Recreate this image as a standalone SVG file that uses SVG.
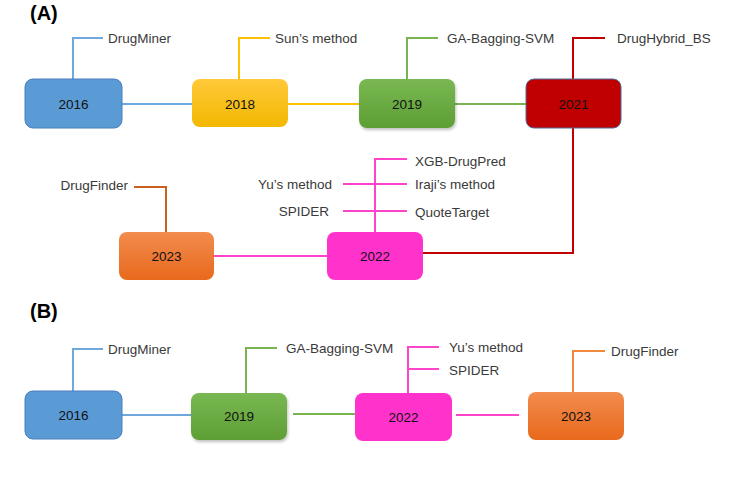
<svg xmlns="http://www.w3.org/2000/svg" width="756" height="489" viewBox="0 0 756 489">
<defs>
<linearGradient id="gY" x1="0" y1="0" x2="0" y2="1"><stop offset="0" stop-color="#FFC93A"/><stop offset="1" stop-color="#F2B800"/></linearGradient>
<linearGradient id="gG" x1="0" y1="0" x2="0" y2="1"><stop offset="0" stop-color="#79B852"/><stop offset="1" stop-color="#5E9E35"/></linearGradient>
<linearGradient id="gO" x1="0" y1="0" x2="0" y2="1"><stop offset="0" stop-color="#F28C4E"/><stop offset="1" stop-color="#E8691C"/></linearGradient>
<filter id="sh" x="-10%" y="-10%" width="130%" height="140%"><feDropShadow dx="1" dy="2" stdDeviation="1.5" flood-color="#000" flood-opacity="0.25"/></filter>
</defs>
<style>
.lbl{font-family:"Liberation Sans",Arial,sans-serif;font-size:13.5px;fill:#3a3a3a}
.yr{font-family:"Liberation Sans",Arial,sans-serif;font-size:13.5px;fill:#111;text-anchor:middle}
.hd{font-family:"Liberation Sans",Arial,sans-serif;font-size:20px;font-weight:bold;fill:#000}
.c{fill:none;stroke-width:2}
.b{stroke:#6FA8DC}.y{stroke:#FFC000}.g{stroke:#78B452}.r{stroke:#C00000}.p{stroke:#FF44CC}.o{stroke:#C9601E}.o2{stroke:#F0883E}
</style>
<text class="hd" x="30" y="20">(A)</text>
<text class="hd" x="30" y="318">(B)</text>
<g id="connectors">
<path class="c b" d="M122 104H192"/>
<path class="c y" d="M288 104H359"/>
<path class="c g" d="M455 104H526"/>
<path class="c r" d="M573 128V253H423"/>
<path class="c p" d="M214 256H327"/>
<path class="c b" d="M73 79V38H103"/>
<path class="c y" d="M239 79V38H270"/>
<path class="c g" d="M407 79V38H438"/>
<path class="c r" d="M573 79V38H605"/>
<path class="c o" d="M166 232V187H134"/>
<path class="c p" d="M375 232V159H407M343 184H407M343 211H407"/>
<path class="c b" d="M122 415H191"/>
<path class="c g" d="M293 414H355"/>
<path class="c p" d="M456 415H519"/>
<path class="c b" d="M73 391V349H103"/>
<path class="c g" d="M246 393V348H277"/>
<path class="c p" d="M408 393V347H439M408 369H439"/>
<path class="c o2" d="M573 392V351H605"/>
</g>
<g id="a2016"><rect x="25" y="79" width="97" height="49" rx="8" fill="#5B9BD5" stroke="#4A7EBB" stroke-width="1"/><text class="yr" x="73.5" y="108.5">2016</text></g>
<g id="a2018"><rect x="192" y="79" width="96" height="48" rx="8" fill="url(#gY)"/><text class="yr" x="240" y="108.5">2018</text></g>
<g id="a2019"><rect x="359" y="79" width="96" height="49" rx="8" fill="url(#gG)" filter="url(#sh)"/><text class="yr" x="407" y="108.5">2019</text></g>
<g id="a2021"><rect x="526" y="79" width="95" height="49" rx="8" fill="#C00000" stroke="#4F6C9A" stroke-width="1"/><text class="yr" x="573.5" y="108.5">2021</text></g>
<g id="a2023"><rect x="119" y="232" width="95" height="48" rx="8" fill="url(#gO)"/><text class="yr" x="166.5" y="261">2023</text></g>
<g id="a2022"><rect x="327" y="232" width="96" height="48" rx="8" fill="#FF33CC"/><text class="yr" x="375" y="261">2022</text></g>
<g id="labelsA">
<text class="lbl" x="108" y="42.5">DrugMiner</text>
<text class="lbl" x="275" y="42.5">Sun’s method</text>
<text class="lbl" x="447" y="42.5">GA-Bagging-SVM</text>
<text class="lbl" x="617" y="42.5">DrugHybrid_BS</text>
<text class="lbl" x="128" y="190" text-anchor="end">DrugFinder</text>
<text class="lbl" x="332" y="188.5" text-anchor="end">Yu’s method</text>
<text class="lbl" x="329" y="216" text-anchor="end">SPIDER</text>
<text class="lbl" x="415" y="165.5">XGB-DrugPred</text>
<text class="lbl" x="415" y="188.5">Iraji’s method</text>
<text class="lbl" x="415" y="216.5">QuoteTarget</text>
</g>
<g id="b2016"><rect x="25" y="391" width="97" height="48" rx="8" fill="#5B9BD5" stroke="#4A7EBB" stroke-width="1"/><text class="yr" x="73.5" y="420">2016</text></g>
<g id="b2019"><rect x="191" y="393" width="96" height="47" rx="8" fill="url(#gG)" filter="url(#sh)"/><text class="yr" x="239" y="421">2019</text></g>
<g id="b2022"><rect x="355" y="393" width="97" height="48" rx="8" fill="#FF33CC"/><text class="yr" x="403.5" y="422">2022</text></g>
<g id="b2023"><rect x="528" y="392" width="96" height="48" rx="8" fill="url(#gO)"/><text class="yr" x="576" y="421">2023</text></g>
<g id="labelsB">
<text class="lbl" x="108" y="353.5">DrugMiner</text>
<text class="lbl" x="286" y="352.5">GA-Bagging-SVM</text>
<text class="lbl" x="449" y="352">Yu’s method</text>
<text class="lbl" x="449" y="375">SPIDER</text>
<text class="lbl" x="611" y="355.5">DrugFinder</text>
</g>
</svg>
